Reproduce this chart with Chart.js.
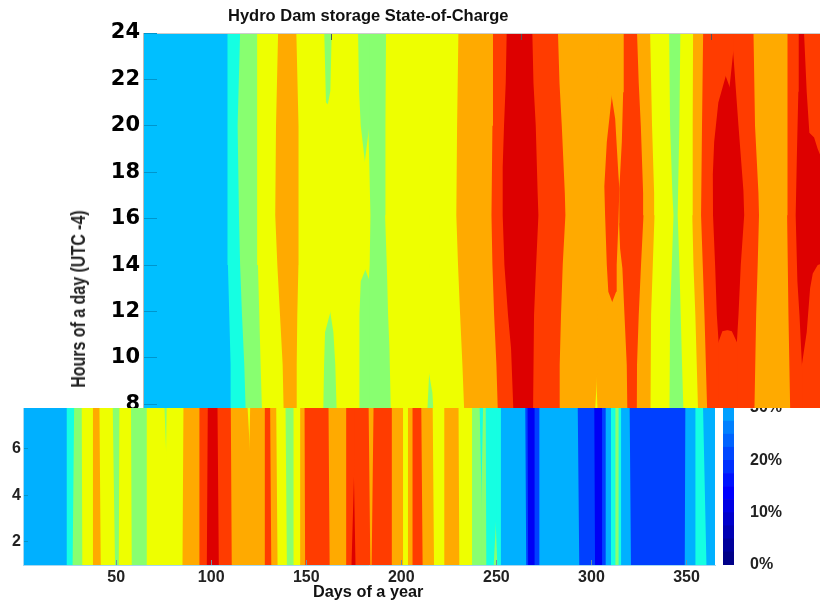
<!DOCTYPE html>
<html>
<head>
<meta charset="utf-8">
<title>Hydro Dam storage State-of-Charge</title>
<script src="https://cdn.jsdelivr.net/npm/chart.js@4"></script>
<style>
  body { margin: 0; background: #fff; width: 820px; height: 601px; position: relative; overflow: hidden; }
  canvas { position: absolute; }
  .lbl { position: absolute; font-family: "Liberation Sans", Arial, sans-serif; font-weight: bold; white-space: nowrap; color: #111; }
</style>
</head>
<body>
<canvas id="topPanel" width="820" height="408" style="left:0px;top:0px"></canvas>
<canvas id="bottomPanel" width="720" height="193" style="left:0px;top:408px"></canvas>
<canvas id="colorBar" width="102" height="193" style="left:718px;top:408px"></canvas>
<div class="lbl" style="left:228px;top:6px;font-size:16.5px">Hydro Dam storage State-of-Charge</div>
<div class="lbl" style="left:313px;top:582px;font-size:16.3px">Days of a year</div>
<div class="lbl" style="left:78px;top:299px;font-size:21px;color:#222;transform:translate(-50%,-50%) rotate(-90deg) scaleX(.76)">Hours of a day (UTC -4)</div>
<script>
// contour colours, one per state-of-charge band
const DEEP = '#0000F5', MID = '#0040FF', BLUE = '#00BFFF', SKY = '#00B0FF', CYAN = '#15FFE2', GREEN = '#88FF70',
  YELLOW = '#EEFF00', ORANGE = '#FFAA00', RED = '#FF3C00', DARK = '#DD0000';

// top panel, band colour left to right
const topBands = [
  BLUE, CYAN, GREEN, YELLOW, ORANGE, YELLOW, GREEN, YELLOW, GREEN, YELLOW, GREEN, YELLOW, GREEN,
  YELLOW, ORANGE, RED, DARK, RED, ORANGE, YELLOW, ORANGE, RED, ORANGE, RED, ORANGE, YELLOW, GREEN,
  YELLOW, ORANGE, RED, DARK, RED, DARK, RED, ORANGE, RED, DARK, RED
];

// top panel, right edge of each band as [hour, day]
// where a band closes up the band before it overshoots a little so no seam shows
const topEdges = [
  [[24,45.6],[20,45.4],[16.15,45.4],[14,45.7],[11.85,46.4],[9.7,47.1],[7.8,47.3]],
  [[24,52.1],[20,50.8],[16.15,51.5],[14,52.1],[11.85,53.1],[9.7,54.3],[7.8,55]],
  [[24,61.2],[20,61],[16.15,61],[14,61.5],[11.85,62.2],[9.7,62.9],[7.8,63.6]],
  [[24,72.1],[20,71],[16.15,70.6],[14,71.7],[11.85,73.1],[9.7,74.5],[7.8,75]],
  [[24,81.7],[20,82.6],[16.15,83.1],[14,82.8],[11.85,82.2],[9.7,81.9],[7.8,81.9]],
  [[24,96.4],[21,97.3],[20.9,98.7],[12.06,99.9],[11.1,96.8],[9.7,96.3],[7.8,95.9]],
  [[24,100.3],[21.5,99.6],[20.9,98.2],[12.06,99.4],[11.1,101.2],[9.7,102.2],[7.8,102.9]],
  [[24,114.2],[21.5,114.7],[20,115.6],[18.3,118],[13.85,118.3],[13.3,115.6],[11.85,114.9],[7.8,114.9]],
  [[24,120.1],[20,120.1],[18.3,117.5],[13.85,117.8],[13.3,120.3],[7.8,120.3]],
  [[24,119.6],[20,119.6],[18.3,120.1],[16.15,120.7],[14,120.3],[13.3,119.8],[7.8,119.8]],
  [[24,128.9],[20,128.6],[16.15,128.4],[14,129.3],[11.85,130],[10.4,130.7],[7.8,131.4]],
  [[24,151.5],[9.5,151.7],[7.8,150.7]],
  [[24,151],[9.5,151.2],[8.5,153.3],[7.8,153.8]],
  [[24,167],[20,166.3],[16.15,165.9],[14,166.8],[11.85,167.9],[9.7,169.1],[7.8,170]],
  [[24,185.2],[20,184.9],[16.15,184.4],[14,184.9],[11.85,185.8],[9.7,187],[7.8,187.7]],
  [[24,192.4],[21.85,191.9],[20,191],[18.2,190.3],[16.15,190.3],[14,191.2],[11.85,193.1],[10.4,194.7],[7.8,195.9]],
  [[24,205.9],[21.85,206.5],[20,207.7],[17.1,208.7],[16.15,209.1],[14,207.9],[11.85,206.8],[7.8,206.3]],
  [[24,219.4],[21.85,220.2],[20,221.4],[17.1,223],[16.15,223.3],[14,221.9],[11.85,221],[9.7,220.3],[7.8,220]],
  [[24,240.5],[9.3,240],[7.8,239]],
  [[24,240],[9.3,239.5],[7.8,240.2]],
  [[24,247.9],[21.4,247.9],[19.3,245.1],[17.4,243.8],[16.15,244.2],[14,245.1],[12.85,245.9],[12.35,248.2],[7.8,248.2]],
  [[24,247.4],[21.4,247.4],[20.3,249.5],[17.9,251.2],[17.3,251.7],[15.8,251.2],[14,250.3],[12.85,250],[12.35,247.7],[7.8,247.7]],
  [[24,254],[21.45,253.7],[19.3,253],[17.3,251.7],[15.8,251.6],[14.7,252.1],[13.85,253.3],[11.85,254.4],[9.7,255.6],[7.8,255.9]],
  [[24,261],[21.85,261.9],[20,263],[17.1,264.2],[16.15,264.4],[14,263.1],[11.85,261.9],[9.7,261],[7.8,260.9]],
  [[24,267.9],[20,268.9],[17.1,270],[16.15,270.2],[14,269.3],[11.85,268.4],[7.8,268.1]],
  [[24,277.9],[20,278.4],[17.1,279.6],[16.15,280.2],[14,279.3],[11.85,278.4],[7.8,278.1]],
  [[24,283.8],[20,283.3],[17.1,282.6],[16.15,282.4],[14,283.3],[11.85,284],[9.7,284.7],[7.8,285.4]],
  [[24,290.5],[20,290.3],[16.15,290.1],[14,290.7],[11.85,291.7],[7.8,293.1]],
  [[24,295.8],[20,295.2],[16.15,294.7],[14,295.6],[11.85,296.5],[7.8,297.9]],
  [[24,307.9],[22.2,307.9],[21,303.8],[19.3,301.6],[17.9,300.9],[16.15,301],[14,302.1],[11.85,303],[10.6,304],[7.8,304]],
  [[24,307.4],[22.2,307.4],[21.6,310.1],[11.2,308.9],[11.15,305.9],[10.6,303.5],[7.8,303.5]],
  [[24,311.9],[23.4,311.9],[21.6,309.6],[11.2,308.4],[11.15,310.9],[10.6,314],[7.8,314]],
  [[24,311.4],[23.4,311.4],[20,314.4],[17.2,317],[16.15,317.4],[14,315.6],[11.85,314.4],[10.6,313.5],[7.8,313.5]],
  [[24,322.3],[20,323.1],[17.1,324.9],[16.15,325.2],[14,324.5],[11.85,323.7],[7.8,322.8]],
  [[24,340.2],[20,340.2],[16.15,340],[11.85,340.7],[7.8,341.6]],
  [[24,346.1],[21.47,345.9],[18.6,345.1],[16.15,344.5],[13.3,345.4],[11.85,346.5],[9.5,347.9],[7.8,347.9]],
  [[24,348.9],[21.47,350.3],[19.7,351.7],[19.5,354.2],[19,356.1],[18.4,359.1],[14.1,359.1],[14,356.1],[13.64,353.5],[13,352.1],[11.1,350.3],[9.5,347.4],[7.8,347.4]],
  [[24,400],[7.8,400]]
];

// bottom panel, band colour left to right
const bottomBands = [
  SKY, CYAN, GREEN, YELLOW, ORANGE, YELLOW, GREEN, YELLOW, GREEN, YELLOW, GREEN, YELLOW, ORANGE, RED, DARK, RED,
  ORANGE, YELLOW, ORANGE, RED, ORANGE, YELLOW, GREEN, YELLOW, ORANGE, RED, ORANGE, RED, DARK, RED, ORANGE, RED,
  ORANGE, YELLOW, ORANGE, RED, ORANGE, YELLOW, ORANGE, YELLOW, GREEN, CYAN, GREEN, CYAN, GREEN, CYAN,
  SKY, MID, DEEP, MID, SKY, MID, DEEP, MID, SKY, CYAN, GREEN, CYAN, SKY, MID, SKY, CYAN, SKY
];

// bottom panel, right edge of each band as [hour, day]
const bottomEdges = [
  [[7.8,24],[1,24]], [[7.8,27.9],[1,27.1]], [[7.8,31.9],[1,32.2]], [[7.8,37.8],[1,37.5]],
  [[7.8,41.2],[1,41.9]], [[7.8,48.2],[1,49.4]], [[7.8,51.7],[1,51.4]], [[7.8,57.8],[1,58.2]],
  [[7.8,66.1],[1,65.7]],
  [[7.8,75.4],[5.15,76.6],[1,76.6]], [[7.8,76.6],[5.15,76.1],[1,76.1]],
  [[7.8,85.4],[1,84.9]], [[7.8,93.8],[1,93.8]], [[7.8,98.2],[1,97.7]], [[7.8,103.3],[1,104]], [[7.8,110.3],[1,110.8]],
  [[7.8,119.1],[5.72,120.5],[1,120.5]], [[7.8,120.5],[5.72,120],[1,120]],
  [[7.8,128.2],[1,128.2]], [[7.8,131],[1,131.6]], [[7.8,134.2],[1,134.9]], [[7.8,139.1],[1,139.8]],
  [[7.8,143.3],[1,143.3]], [[7.8,146.8],[1,146.8]], [[7.8,149.1],[1,149.4]], [[7.8,161.7],[1,162.3]],
  [[7.8,171],[1,171.4]],
  [[7.8,175.4],[5.65,175.4],[1,173.8]], [[7.8,174.9],[5.65,174.9],[1,175.9]],
  [[7.8,182.8],[1,183.7]], [[7.8,185.4],[1,184.4]], [[7.8,195],[1,195]], [[7.8,200.9],[1,200.9]],
  [[7.8,203.5],[1,203.5]], [[7.8,205.9],[1,205.9]], [[7.8,210.5],[1,211.2]], [[7.8,216.5],[1,217.2]],
  [[7.8,222.6],[1,222.6]], [[7.8,230.1],[1,230.5]], [[7.8,237.2],[1,237.7]],
  [[7.8,241.2],[3.07,242.4],[1,242.4]], [[7.8,243],[3.07,241.9],[1,241.9]], [[7.8,244.4],[1,244.7]],
  [[7.8,250],[3.2,250],[1,248.6]], [[7.8,249.5],[3.2,249.5],[1,250.5]], [[7.8,252.4],[1,252.4]],
  [[7.8,265.2],[1,265.7]], [[7.8,266.4],[1,266.7]], [[7.8,270.1],[1,270.1]], [[7.8,272.6],[1,272.6]],
  [[7.8,292.8],[1,293.6]], [[7.8,301.5],[1,301.9]], [[7.8,305.6],[1,305.6]], [[7.8,307.5],[1,307.5]],
  [[7.8,310.3],[1,310.3]], [[7.8,312.6],[1,312.6]], [[7.8,314.3],[1,314.3]], [[7.8,315.6],[1,315.6]],
  [[7.8,320.1],[1,320.8]], [[7.8,349.4],[1,349.1]], [[7.8,354.7],[1,354.7]], [[7.8,358.7],[1,360.5]],
  [[7.8,400],[1,400]]
];

// colour bar, visible part up to 30 %
const barSteps = [2.5, 2.5, 2.5, 2.5, 2.5, 2.5, 2.5, 2.5, 2.5, 2.5, 2.5, 2.5];
const barColors = ['#000088', '#00009C', '#0000B4', '#0000CC', '#0000E4', '#0000FF', '#0014FF', '#0030FF', '#0048FF', '#0064FF', '#0080FF', '#00A0FF'];

const tickFont = { family: 'Liberation Sans', weight: 'bold', size: 16 };

function bandDatasets(bands, edges) {
  return bands.map(function (color, i) {
    return {
      data: edges[i].map(function (p) { return { x: p[1], y: p[0] }; }).sort(function (a, b) { return a.y - b.y; }),
      backgroundColor: color,
      borderWidth: 0,
      pointRadius: 0,
      fill: { value: 1 } // fill back to day 1, later bands get painted over
    };
  });
}

// fixed axis box, no extra room for labels hanging over the plot ends
function fixBox(s, size) {
  if (s.isHorizontal()) s.height = size; else s.width = size;
  s.paddingTop = s.paddingBottom = s.paddingLeft = s.paddingRight = 0;
}

function baseOptions(right) {
  return {
    indexAxis: 'y',
    responsive: false,
    animation: false,
    layout: { autoPadding: false, padding: { right: right } },
    plugins: { legend: { display: false }, tooltip: { enabled: false } }
  };
}

const topOptions = baseOptions(0);
topOptions.scales = {
  x: {
    type: 'linear', position: 'top', min: 1, max: 357.3,
    ticks: { display: false, stepSize: 100, includeBounds: false },
    grid: { drawOnChartArea: false, tickLength: -7, color: '#555', z: 1 },
    border: { color: '#ccc', z: 1 },
    afterFit: function (s) { fixBox(s, 33); }
  },
  y: {
    type: 'linear', min: 7.84, max: 24,
    ticks: { stepSize: 2, includeBounds: false, color: '#000', padding: 17, font: { family: 'DejaVu Sans', weight: 'bold', size: 21 } },
    grid: { drawOnChartArea: false, tickLength: -14, color: '#0095CC', z: 1 },
    border: { color: '#bbb', z: 1 },
    afterFit: function (s) { fixBox(s, 143); }
  }
};

new Chart(document.getElementById('topPanel'), {
  type: 'line',
  data: { datasets: bandDatasets(topBands, topEdges) },
  options: topOptions
});

const bottomOptions = baseOptions(5);
bottomOptions.scales = {
  x: {
    type: 'linear', min: 1, max: 365,
    ticks: { stepSize: 50, includeBounds: false, color: '#222', padding: 8, maxRotation: 0, font: tickFont },
    grid: { drawOnChartArea: false, tickLength: -5, color: '#7090A0', z: 1 },
    border: { color: '#A8D8F0', z: 1 },
    afterFit: function (s) { fixBox(s, 36); }
  },
  y: {
    type: 'linear', min: 1, max: 7.74,
    ticks: { stepSize: 2, includeBounds: false, color: '#222', padding: 7, font: tickFont, callback: function (v) { return v === 0 ? '' : v; } },
    grid: { drawOnChartArea: false, tickLength: -5, color: '#0095CC', z: 1 },
    border: { color: '#A8D8F0', z: 1 },
    afterFit: function (s) { fixBox(s, 23); }
  }
};

new Chart(document.getElementById('bottomPanel'), {
  type: 'line',
  data: { datasets: bandDatasets(bottomBands, bottomEdges) },
  options: bottomOptions
});

new Chart(document.getElementById('colorBar'), {
  type: 'bar',
  data: {
    labels: [''],
    datasets: barSteps.map(function (step, i) {
      return { data: [step], backgroundColor: barColors[i], barPercentage: 1, categoryPercentage: 1 };
    })
  },
  options: {
    responsive: false,
    animation: false,
    layout: { autoPadding: false, padding: { left: 5, bottom: 36 } },
    plugins: { legend: { display: false }, tooltip: { enabled: false } },
    scales: {
      x: { stacked: true, display: false },
      y: {
        stacked: true, position: 'right', min: 0, max: 30,
        ticks: { stepSize: 10, color: '#222', padding: 8, font: tickFont, callback: function (v) { return v + '%'; } },
        grid: { display: false },
        border: { display: false },
        afterFit: function (s) { fixBox(s, 86); }
      }
    }
  }
});
</script>
</body>
</html>
